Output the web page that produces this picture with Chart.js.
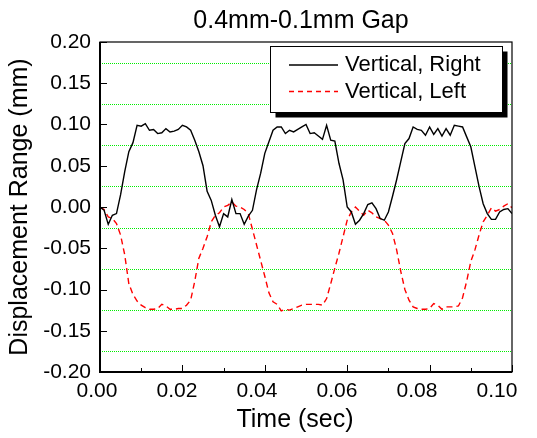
<!DOCTYPE html>
<html>
<head>
<meta charset="utf-8">
<title>0.4mm-0.1mm Gap</title>
<script src="https://cdn.jsdelivr.net/npm/chart.js@4.4.1/dist/chart.umd.min.js"></script>
<style>
  html, body { margin: 0; padding: 0; background: #fff; }
  canvas { display: block; }
</style>
</head>
<body>
<canvas id="chart" width="537" height="438"></canvas>
<script>
// Dados (tempo em s, deslocamento em mm)
const times = [
  0.000, 0.001, 0.002, 0.003, 0.004, 0.005, 0.006, 0.007, 0.008, 0.009,
  0.010, 0.011, 0.012, 0.013, 0.014, 0.015, 0.016, 0.017, 0.018, 0.019,
  0.020, 0.021, 0.022, 0.023, 0.024, 0.025, 0.026, 0.027, 0.028, 0.029,
  0.030, 0.031, 0.032, 0.033, 0.034, 0.035, 0.036, 0.037, 0.038, 0.039,
  0.040, 0.041, 0.042, 0.043, 0.044, 0.045, 0.046, 0.047, 0.048, 0.049,
  0.050, 0.051, 0.052, 0.053, 0.054, 0.055, 0.056, 0.057, 0.058, 0.059,
  0.060, 0.061, 0.062, 0.063, 0.064, 0.065, 0.066, 0.067, 0.068, 0.069,
  0.070, 0.071, 0.072, 0.073, 0.074, 0.075, 0.076, 0.077, 0.078, 0.079,
  0.080, 0.081, 0.082, 0.083, 0.084, 0.085, 0.086, 0.087, 0.088, 0.089,
  0.090, 0.091, 0.092, 0.093, 0.094, 0.095, 0.096, 0.097, 0.098, 0.099,
  0.100
];

const verticalRight = [
  0.000, -0.004, -0.021, -0.010, -0.008, 0.015, 0.043, 0.067, 0.078, 0.099,
  0.098, 0.101, 0.093, 0.094, 0.089, 0.090, 0.095, 0.091, 0.092, 0.094,
  0.099, 0.097, 0.093, 0.081, 0.067, 0.050, 0.019, 0.008, -0.010, -0.024,
  -0.008, -0.012, 0.009, -0.008, -0.008, -0.021, -0.011, -0.004, 0.021, 0.041,
  0.065, 0.079, 0.093, 0.097, 0.097, 0.089, 0.093, 0.091, 0.094, 0.097,
  0.100, 0.089, 0.090, 0.086, 0.082, 0.099, 0.081, 0.080, 0.053, 0.033,
  0.000, -0.006, -0.021, -0.016, -0.008, 0.003, 0.005, -0.002, -0.014, -0.016,
  -0.006, 0.013, 0.033, 0.055, 0.077, 0.083, 0.097, 0.094, 0.093, 0.087,
  0.097, 0.088, 0.095, 0.086, 0.095, 0.087, 0.099, 0.098, 0.097, 0.085,
  0.073, 0.049, 0.025, 0.004, -0.008, -0.015, -0.015, -0.006, -0.003, -0.002,
  -0.008
];

const verticalLeft = [
  0.000, -0.003, -0.012, -0.014, -0.020, -0.034, -0.058, -0.093, -0.106, -0.114,
  -0.119, -0.122, -0.124, -0.124, -0.123, -0.118, -0.120, -0.124, -0.124, -0.123,
  -0.123, -0.119, -0.113, -0.090, -0.062, -0.050, -0.036, -0.018, -0.010, -0.007,
  0.000, 0.002, 0.006, 0.001, 0.000, -0.003, -0.008, -0.027, -0.046, -0.065,
  -0.084, -0.104, -0.115, -0.118, -0.126, -0.124, -0.125, -0.123, -0.121, -0.119,
  -0.118, -0.118, -0.118, -0.118, -0.119, -0.111, -0.093, -0.074, -0.056, -0.036,
  -0.016, -0.006, 0.000, -0.005, -0.010, -0.004, -0.007, -0.012, -0.014, -0.016,
  -0.022, -0.032, -0.052, -0.078, -0.100, -0.113, -0.121, -0.123, -0.124, -0.124,
  -0.123, -0.117, -0.119, -0.124, -0.121, -0.121, -0.121, -0.120, -0.110, -0.090,
  -0.066, -0.052, -0.034, -0.018, -0.010, -0.001, -0.005, -0.003, 0.001, 0.004,
  -0.001
];

// Marcas e rótulos dos eixos
const xTicks = [0.00, 0.02, 0.04, 0.06, 0.08, 0.10];
const xTickLabels = ['0.00', '0.02', '0.04', '0.06', '0.08', '0.10'];
const xMinorTicks = [0.01, 0.03, 0.05, 0.07, 0.09];
const yTicks = [-0.20, -0.15, -0.10, -0.05, 0.00, 0.05, 0.10, 0.15, 0.20];
const yTickLabels = ['-0.20', '-0.15', '-0.10', '-0.05', '0.00', '0.05', '0.10', '0.15', '0.20'];
const yGridLines = [-0.175, -0.125, -0.075, -0.025, 0.025, 0.075, 0.125, 0.175];

const FONT = '"Liberation Sans", Arial, sans-serif';
const GREEN = '#00ee00';

const toPoints = (values) => values.map((v, i) => ({ x: times[i], y: v }));

// Linhas de grade verdes pontilhadas (atrás das curvas)
const greenGrid = {
  id: 'greenGrid',
  beforeDatasetsDraw(chart) {
    const { ctx, chartArea: a, scales } = chart;
    ctx.save();
    ctx.strokeStyle = GREEN;
    ctx.lineWidth = 1;
    ctx.setLineDash([1, 1]);
    ctx.beginPath();
    yGridLines.forEach(v => {
      const y = Math.round(scales.y.getPixelForValue(v)) + 0.5;
      ctx.moveTo(a.left, y); ctx.lineTo(a.right, y);
    });
    ctx.stroke();
    ctx.restore();
  }
};

// Moldura, marcas internas, título e legenda
const decorations = {
  id: 'decorations',
  afterDraw(chart) {
    const { ctx, chartArea: a, scales } = chart;
    ctx.save();
    ctx.strokeStyle = '#000';

    // ticks voltados para dentro
    ctx.lineWidth = 1;
    ctx.beginPath();
    yTicks.forEach(v => {
      const y = Math.round(scales.y.getPixelForValue(v)) + 0.5;
      ctx.moveTo(a.left, y); ctx.lineTo(a.left + 7, y);
    });
    xTicks.forEach(v => {
      const x = Math.round(scales.x.getPixelForValue(v)) + 0.5;
      ctx.moveTo(x, a.bottom); ctx.lineTo(x, a.bottom - 7);
    });
    xMinorTicks.forEach(v => {
      const x = Math.round(scales.x.getPixelForValue(v)) + 0.5;
      ctx.moveTo(x, a.bottom); ctx.lineTo(x, a.bottom - 4);
    });
    ctx.stroke();

    // moldura
    ctx.lineWidth = 1.2;
    ctx.strokeRect(a.left, a.top, a.right - a.left, a.bottom - a.top);
    ctx.lineWidth = 2;
    ctx.beginPath();
    ctx.moveTo(a.left, a.top); ctx.lineTo(a.left, a.bottom); ctx.lineTo(a.right, a.bottom);
    ctx.stroke();

    // título e rótulo do eixo x
    ctx.fillStyle = '#000';
    ctx.textAlign = 'center';
    ctx.textBaseline = 'middle';
    ctx.font = '25px ' + FONT;
    ctx.fillText('0.4mm-0.1mm Gap', 301, 21);
    ctx.fillText('Time (sec)', 295, 420);

    // legenda com sombra
    const lx = 270.5, ly = 46.5, lw = 232, lh = 66;
    ctx.fillStyle = '#000';
    ctx.fillRect(lx + 5, ly + 5, lw, lh);
    ctx.fillStyle = '#fff';
    ctx.fillRect(lx, ly, lw, lh);
    ctx.lineWidth = 1;
    ctx.strokeRect(lx, ly, lw, lh);
    ctx.font = '22px ' + FONT;
    ctx.textAlign = 'left';
    chart.data.datasets.forEach((ds, i) => {
      const y = 65 + i * 26.5;
      ctx.strokeStyle = ds.borderColor;
      ctx.lineWidth = ds.borderWidth;
      ctx.setLineDash(ds.legendDash || []);
      ctx.beginPath();
      ctx.moveTo(289, y); ctx.lineTo(338, y);
      ctx.stroke();
      ctx.setLineDash([]);
      ctx.fillStyle = '#000';
      ctx.fillText(ds.label, 345, y);
    });
    ctx.restore();
  }
};

const chart = new Chart(document.getElementById('chart'), {
  type: 'line',
  data: {
    datasets: [
      {
        label: 'Vertical, Right',
        data: toPoints(verticalRight),
        borderColor: '#000',
        borderWidth: 1.4,
        pointRadius: 0,
        tension: 0
      },
      {
        label: 'Vertical, Left',
        data: toPoints(verticalLeft),
        borderColor: '#ff0000',
        borderWidth: 1.4,
        borderDash: [6, 4],
        legendDash: [5, 4],
        pointRadius: 0,
        tension: 0
      }
    ]
  },
  options: {
    responsive: false,
    animation: false,
    devicePixelRatio: 1,
    layout: { padding: { left: 0, right: 25, top: 42, bottom: 0 } },
    plugins: { legend: { display: false }, title: { display: false }, tooltip: { enabled: false } },
    scales: {
      x: {
        type: 'linear',
        min: 0,
        max: 0.1,
        ticks: { display: false },
        grid: { display: false },
        border: { display: false },
        afterFit: (s) => { s.height = 0; }
      },
      // eixo só para os rótulos de tempo (posicionados como no original)
      xl: {
        type: 'linear',
        position: 'bottom',
        min: 0.00075,
        max: 0.10375,
        afterBuildTicks: (s) => { s.ticks = xTicks.map(v => ({ value: v })); },
        ticks: {
          autoSkip: false,
          maxRotation: 0,
          padding: 7,
          color: '#000',
          font: { family: FONT, size: 21 },
          callback: (value) => {
            const i = xTicks.indexOf(value);
            return i >= 0 ? xTickLabels[i] : '';
          }
        },
        grid: { display: false, drawTicks: false },
        border: { display: false },
        afterFit: (s) => { s.height = 66; }
      },
      y: {
        type: 'linear',
        min: -0.2,
        max: 0.2,
        afterBuildTicks: (s) => { s.ticks = yTicks.map(v => ({ value: v })); },
        ticks: {
          autoSkip: false,
          padding: 9,
          color: '#000',
          font: { family: FONT, size: 21 },
          callback: (value) => {
            const i = yTicks.indexOf(value);
            return i >= 0 ? yTickLabels[i] : '';
          }
        },
        grid: { display: false, drawTicks: false },
        border: { display: false },
        title: {
          display: true,
          text: 'Displacement Range (mm)',
          color: '#000',
          font: { family: FONT, size: 25 },
          padding: { top: 5, bottom: 0 }
        },
        afterFit: (s) => { s.width = 100; }
      }
    }
  },
  plugins: [greenGrid, decorations]
});
</script>
</body>
</html>
